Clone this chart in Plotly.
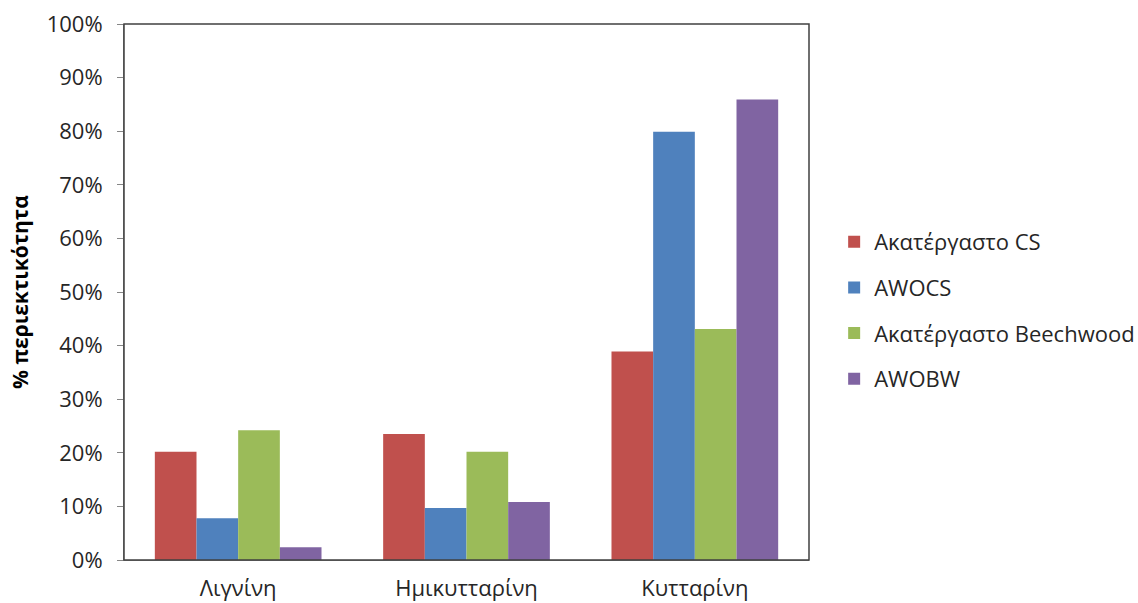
import plotly.graph_objects as go

categories = ["Λιγνίνη", "Ημικυτταρίνη", "Κυτταρίνη"]
series_names = ["Ακατέργαστο CS", "AWOCS", "Ακατέργαστο Beechwood", "AWOBW"]
raw_cs = [0.202, 0.235, 0.389]
awocs = [0.078, 0.097, 0.799]
raw_beechwood = [0.242, 0.202, 0.431]
awobw = [0.024, 0.108, 0.859]
colors = ["#C0504D", "#4F81BD", "#9BBB59", "#8064A2"]
y_ticks = [0, 0.1, 0.2, 0.3, 0.4, 0.5, 0.6, 0.7, 0.8, 0.9, 1.0]
y_tick_labels = ["0%", "10%", "20%", "30%", "40%", "50%", "60%", "70%", "80%", "90%", "100%"]

FONT = "Open Sans"
TEXT = "#262626"

fig = go.Figure()
for i, (name, vals) in enumerate(zip(series_names, [raw_cs, awocs, raw_beechwood, awobw])):
    fig.add_trace(go.Bar(
        x=categories, y=vals, name=name,
        marker=dict(color=colors[i], line=dict(width=0)),
        legendgroup=str(i),
    ))

fig.update_layout(
    width=1138, height=603,
    margin=dict(l=124, r=329, t=24, b=43, pad=0, autoexpand=False),
    paper_bgcolor="white", plot_bgcolor="white",
    barmode="group", bargap=0.27, bargroupgap=0,
    font=dict(family=FONT, size=22, color=TEXT),
    legend=dict(
        xref="container", yref="container",
        x=0.733, y=0.485, xanchor="left", yanchor="middle",
        font=dict(family=FONT, size=22, color=TEXT),
        tracegroupgap=14, itemwidth=30,
    ),
    showlegend=True,
)
fig.update_xaxes(
    showline=True, linecolor="#868686", linewidth=1,
    mirror=False, ticks="", showgrid=False, automargin=False,
    ticklabelstandoff=9,
    tickfont=dict(family=FONT, size=22, color=TEXT),
)
fig.update_yaxes(
    range=[0, 1.0], tickvals=y_ticks, ticktext=y_tick_labels,
    showline=True, linecolor="#868686", linewidth=1,
    ticks="outside", ticklen=6, tickcolor="#868686",
    ticklabelstandoff=10, automargin=False,
    showgrid=False, zeroline=False,
    tickfont=dict(family=FONT, size=22, color=TEXT),
)
# Rotated bold axis title placed at the left edge of the figure
fig.add_annotation(
    text="<b>% περιεκτικότητα</b>", xref="paper", yref="paper",
    x=-0.152, y=0.5, xanchor="center", yanchor="middle",
    textangle=-90, showarrow=False,
    font=dict(family=FONT, size=21, color="#000000"),
)
# Plot-area frame
fig.add_shape(type="rect", xref="paper", yref="paper", x0=0, y0=0, x1=1, y1=1,
              line=dict(color="#404040", width=1.5), fillcolor="rgba(0,0,0,0)", layer="above")

fig.write_html("out.html")
